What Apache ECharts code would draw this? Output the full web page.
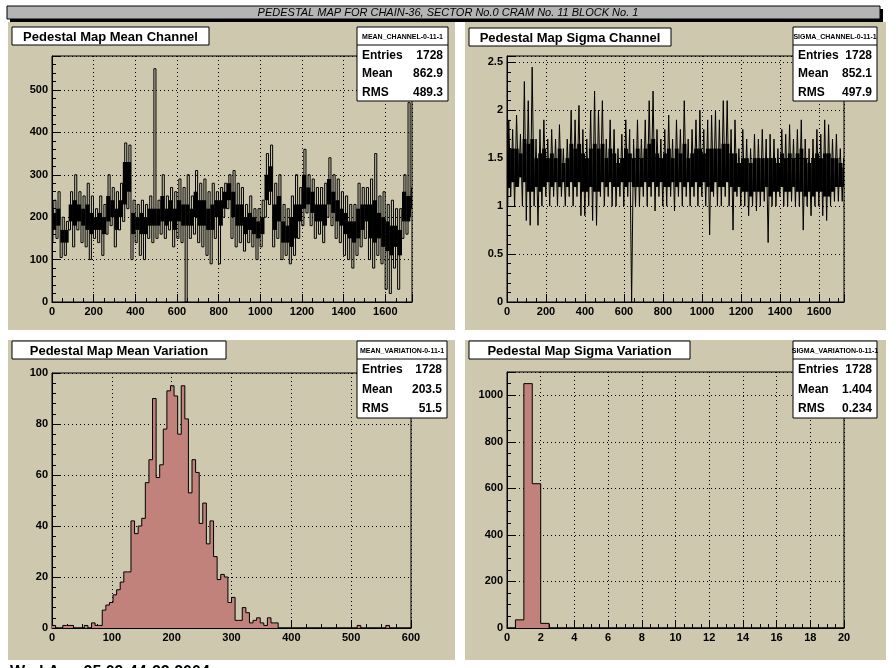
<!DOCTYPE html>
<html>
<head>
<meta charset="utf-8">
<script src="https://cdn.jsdelivr.net/npm/echarts@6/dist/echarts.min.js"></script>
<style>
html,body{margin:0;padding:0;background:#fff;}
#main{width:896px;height:668px;}
</style>
</head>
<body>
<div id="main"></div>
<script>
// 通道数据：每20个通道读取的最低/最高值
const meanChLo = [140,150,105,110,170,130,170,140,130,100,150,140,110,160,180,130,170,190,220,100,140,110,100,150,140,150,160,150,170,130,150,140,0,150,160,140,130,110,90,150,90,200,220,150,130,140,120,140,130,100,130,200,230,130,150,100,110,90,110,150,180,210,180,150,160,140,200,180,150,140,110,100,80,110,130,150,100,80,110,90,30,20,80,30,150,160,200];
const meanChHi = [240,260,200,190,260,300,260,250,280,250,220,250,230,300,270,260,280,375,370,240,230,240,230,250,550,240,300,250,270,260,290,270,300,250,310,280,290,260,280,260,270,280,300,310,280,270,230,250,220,220,240,350,370,280,300,230,220,250,300,270,360,300,290,270,270,280,340,300,290,260,250,230,230,280,270,270,290,350,250,260,230,240,220,220,300,470,270];
const sigmaChLo = [1.0,1.1,1.0,1.2,1.0,0.85,0.8,1.0,0.8,1.0,1.1,1.0,1.1,1.0,1.1,1.0,1.1,1.0,1.1,0.9,0.9,1.0,0.85,0.8,1.1,1.0,1.1,1.0,1.0,1.1,1.0,1.1,0.0,1.0,1.0,1.1,1.0,1.1,0.95,1.1,1.0,1.0,1.1,0.95,1.1,1.0,1.1,1.0,1.1,1.0,1.1,1.0,0.7,1.1,1.0,1.0,1.1,1.0,0.75,1.1,1.0,1.0,0.9,1.0,0.95,1.0,1.05,0.62,1.0,1.0,1.1,1.0,1.0,1.05,1.0,1.0,0.75,1.0,0.9,1.0,1.0,0.9,0.85,1.0,1.05,1.05,1.05];
const sigmaChHi = [1.9,1.8,1.95,1.75,2.3,2.1,2.45,1.7,1.8,1.9,1.7,1.8,1.7,1.85,1.6,1.7,2.0,1.9,2.05,1.8,1.7,2.0,2.2,2.0,2.1,1.7,1.9,1.8,1.6,1.75,1.9,1.8,1.7,1.9,1.7,1.9,2.1,2.2,1.8,1.7,1.8,1.95,1.7,1.9,1.8,2.1,1.7,1.8,1.9,2.0,1.8,1.9,1.95,2.0,1.9,2.1,2.1,1.8,1.9,1.6,1.8,1.7,1.6,1.75,1.7,1.8,1.7,1.75,1.7,1.6,1.8,1.75,1.85,1.7,1.8,1.9,1.7,1.6,1.7,1.8,1.75,1.9,1.85,1.7,1.75,1.6,1.5];
// 每组的密集核心区（读图所得）
const meanCoreLo = [170,180,140,140,190,180,190,180,170,160,170,170,160,190,200,170,200,230,260,160,170,160,160,180,180,180,190,180,190,170,190,180,180,180,200,180,180,170,170,200,180,220,240,200,180,180,160,170,160,150,160,240,260,170,190,140,140,130,150,190,220,230,210,190,190,180,230,210,190,180,160,150,140,150,170,190,150,140,150,130,120,110,130,110,190,190,220];
const meanCoreHi = [210,220,170,170,230,240,230,220,230,210,200,210,200,250,240,220,240,330,330,210,200,210,200,220,220,220,250,220,240,220,240,230,230,220,260,240,240,220,230,240,240,260,280,260,230,230,200,210,200,190,200,300,320,230,250,190,180,200,230,230,300,270,260,230,230,230,290,260,240,220,210,190,190,220,230,230,230,240,210,200,190,180,180,170,260,250,250];
const sigmaCoreLo = [1.2,1.25,1.2,1.3,1.25,1.15,1.15,1.2,1.15,1.2,1.25,1.2,1.25,1.2,1.25,1.2,1.25,1.2,1.25,1.15,1.15,1.2,1.15,1.15,1.25,1.2,1.25,1.2,1.2,1.25,1.2,1.25,1.2,1.2,1.2,1.25,1.2,1.25,1.2,1.25,1.2,1.2,1.25,1.2,1.25,1.2,1.25,1.2,1.25,1.2,1.25,1.2,1.15,1.25,1.2,1.2,1.25,1.2,1.15,1.2,1.15,1.15,1.1,1.15,1.15,1.15,1.2,1.1,1.15,1.15,1.2,1.15,1.15,1.2,1.15,1.15,1.1,1.15,1.1,1.15,1.15,1.1,1.1,1.15,1.2,1.2,1.2];
const sigmaCoreHi = [1.6,1.6,1.6,1.55,1.7,1.65,1.7,1.5,1.55,1.6,1.5,1.55,1.5,1.6,1.45,1.5,1.65,1.6,1.65,1.55,1.5,1.6,1.65,1.6,1.65,1.5,1.6,1.55,1.45,1.5,1.6,1.55,1.5,1.6,1.5,1.6,1.65,1.7,1.55,1.5,1.55,1.6,1.5,1.6,1.55,1.65,1.5,1.55,1.6,1.6,1.55,1.6,1.6,1.6,1.6,1.65,1.65,1.55,1.55,1.45,1.5,1.5,1.45,1.5,1.5,1.5,1.5,1.5,1.5,1.45,1.55,1.5,1.55,1.5,1.55,1.6,1.5,1.45,1.5,1.55,1.5,1.55,1.55,1.5,1.5,1.45,1.4];
const groupSize = 20;
const nChannels = 1728;

// 分布直方图
const meanVarCounts = [1,0,0,1,1,1,0,0,0,1,0,2,1,1,7,9,10,13,15,18,22,22,42,37,40,43,57,66,90,59,64,78,93,95,91,76,95,82,53,66,61,41,49,33,42,28,19,21,20,10,12,3,3,8,6,2,3,4,2,1,4,2,2,0,0,0,0,0,0,0,0,0,0,0,0,0,0,0,0,0,0,0,0,0,0,1,0,0,0,0,0,0,0,1,0,0,0,0,0,0];
const meanVarBin = 6;
const sigmaVarCounts = [0,35,1050,620,20,0,0,0,0,0,0,0,0,0,0,0,0,0,0,0,0,0,0,0,0,0,0,0,0,0,0,0,0,0,0,0,0,0,0,0];
const sigmaVarBin = 0.5;

const headerText = 'PEDESTAL MAP FOR CHAIN-36, SECTOR No.0 CRAM No. 11 BLOCK No. 1';
const panelTitles = ['Pedestal Map Mean Channel','Pedestal Map Sigma Channel','Pedestal Map Mean Variation','Pedestal Map Sigma Variation'];
const statNames = ['MEAN_CHANNEL-0-11-1','SIGMA_CHANNEL-0-11-1','MEAN_VARIATION-0-11-1','SIGMA_VARIATION-0-11-1'];
const statEntries = ['1728','1728','1728','1728'];
const statMeans = ['862.9','852.1','203.5','1.404'];
const statRms = ['489.3','497.9','51.5','0.234'];

function zigzag(lo, hi) {
    let out = [];
    for (let g = 0; g < lo.length; g++) {
        let s = g * groupSize;
        out.push([s + 4, lo[g]]);
        out.push([Math.min(s + 14, nChannels), hi[g]]);
    }
    return out;
}
function coreData(lo, hi) {
    return lo.map((v, g) => [g * groupSize, Math.min((g + 1) * groupSize, nChannels), v, hi[g]]);
}
function histData(counts, w) {
    let out = counts.map((c, i) => [i * w, c]);
    out.push([counts.length * w, 0]);
    return out;
}

const chart = echarts.init(document.getElementById('main'));
const F = '"Liberation Sans", Arial, sans-serif';
const beige = '#cdc8ae';

const grids = [
    {left: 52, top: 56, width: 360, height: 246},
    {left: 507, top: 56, width: 337, height: 246},
    {left: 52, top: 373, width: 359, height: 255},
    {left: 507, top: 372, width: 337, height: 256}
];
const xr = [[0, 1728, 200], [0, 1728, 200], [0, 600, 100], [0, 20, 2]];
const yr = [[0, 580, 100], [0, 2.566, 0.5], [0, 100, 20], [0, 1100, 200]];

function axisCommon(minorN) {
    return {
        axisLine: {show: true, onZero: false, lineStyle: {color: '#000', width: 1}},
        axisTick: {show: true, inside: true, length: 8, lineStyle: {color: '#000'}},
        minorTick: {show: true, splitNumber: minorN, length: 4, lineStyle: {color: '#000'}},
        splitLine: {show: true, lineStyle: {color: '#000', type: [1, 3], width: 1}},
        axisLabel: {color: '#000', fontFamily: F, fontWeight: 'bold', fontSize: 11, margin: 4,
            formatter: v => String(Math.round(v * 1000) / 1000)}
    };
}

const xAxes = grids.map((g, i) => Object.assign({
    type: 'value', gridIndex: i, min: xr[i][0], max: xr[i][1], interval: xr[i][2],
    position: 'bottom'
}, axisCommon(4)));
const yAxes = grids.map((g, i) => Object.assign({
    type: 'value', gridIndex: i, min: yr[i][0], max: yr[i][1], interval: yr[i][2]
}, axisCommon(i === 3 ? 4 : 5)));
xAxes[0].axisLabel.showMaxLabel = false;
xAxes[1].axisLabel.showMaxLabel = false;
xAxes[2].axisLabel.showMaxLabel = true;
xAxes[3].axisLabel.showMaxLabel = true;
yAxes[0].axisLabel.showMaxLabel = false;
yAxes[1].axisLabel.showMaxLabel = false;
yAxes[3].axisLabel.showMaxLabel = false;

// 背景面板与标题框
const panels = [[8, 22, 447, 308], [465, 22, 421, 308], [8, 340, 447, 320], [465, 340, 421, 320]];
const titleBoxes = [[12, 27, 197, 18], [469, 28, 202, 18], [12, 341, 214, 18], [469, 341, 221, 18]];
const statBoxes = [[357, 27, 91, 74], [793, 27, 84, 74], [357, 341, 90, 77], [793, 341, 84, 77]];

let graphics = [];
panels.forEach(p => graphics.push({type: 'rect', z: -10, shape: {x: p[0], y: p[1], width: p[2], height: p[3]}, style: {fill: beige}}));
// header
graphics.push({type: 'rect', z: 5, shape: {x: 10, y: 9, width: 873, height: 13}, style: {fill: '#000'}});
graphics.push({type: 'rect', z: 6, shape: {x: 7, y: 6, width: 873, height: 13}, style: {fill: '#b4b4b4', stroke: '#000', lineWidth: 1}});
graphics.push({type: 'text', z: 7, style: {x: 448, y: 13, text: headerText, fill: '#000', font: 'italic 11px ' + F, textAlign: 'center', textVerticalAlign: 'middle'}});
titleBoxes.forEach((b, i) => {
    graphics.push({type: 'rect', z: 20, shape: {x: b[0], y: b[1], width: b[2], height: b[3]}, style: {fill: '#fff', stroke: '#000', lineWidth: 1}});
    graphics.push({type: 'text', z: 21, style: {x: b[0] + b[2] / 2, y: b[1] + b[3] / 2 + 1, text: panelTitles[i], fill: '#000', font: 'bold 13px ' + F, textAlign: 'center', textVerticalAlign: 'middle'}});
});
statBoxes.forEach((b, i) => {
    const [x, y, w, h] = b;
    const head = 18;
    graphics.push({type: 'rect', z: 20, shape: {x: x, y: y, width: w, height: h}, style: {fill: '#fff', stroke: '#000', lineWidth: 1}});
    graphics.push({type: 'line', z: 21, shape: {x1: x, y1: y + head, x2: x + w, y2: y + head}, style: {stroke: '#000', lineWidth: 1}});
    graphics.push({type: 'text', z: 21, style: {x: x + w / 2, y: y + head / 2 + 1, text: statNames[i], fill: '#000', font: 'bold 7px ' + F, textAlign: 'center', textVerticalAlign: 'middle'}});
    const rows = [['Entries', statEntries[i]], ['Mean', statMeans[i]], ['RMS', statRms[i]]];
    const rh = (h - head) / 3;
    rows.forEach((r, k) => {
        const ty = y + head + rh * (k + 0.5) + 1;
        graphics.push({type: 'text', z: 21, style: {x: x + 5, y: ty, text: r[0], fill: '#000', font: 'bold 12px ' + F, textAlign: 'left', textVerticalAlign: 'middle'}});
        graphics.push({type: 'text', z: 21, style: {x: x + w - 5, y: ty, text: r[1], fill: '#000', font: 'bold 12px ' + F, textAlign: 'right', textVerticalAlign: 'middle'}});
    });
});
// 底部被裁切的日期
graphics.push({type: 'text', z: 30, style: {x: 10, y: 673, text: 'Wed Aug 25 09:44:22 2004', fill: '#000', font: 'bold 16px ' + F, textAlign: 'left', textVerticalAlign: 'middle'}});

const lineStyle = {color: '#000', width: 1};
function band(ax, lo, hi) {
    return {
        type: 'custom', xAxisIndex: ax, yAxisIndex: ax, z: 1,
        data: coreData(lo, hi),
        encode: {x: [0, 1], y: [2, 3]},
        renderItem: (params, api) => {
            const p0 = api.coord([api.value(0), api.value(3)]);
            const p1 = api.coord([api.value(1), api.value(2)]);
            return {type: 'rect', shape: {x: p0[0], y: p0[1], width: p1[0] - p0[0], height: p1[1] - p0[1]}, style: {fill: '#000'}};
        }
    };
}
chart.setOption({
    animation: false,
    backgroundColor: '#fff',
    grid: grids.map(g => Object.assign({show: true, borderColor: '#000', borderWidth: 1, backgroundColor: 'transparent'}, g)),
    xAxis: xAxes,
    yAxis: yAxes,
    graphic: {elements: graphics},
    series: [
        band(0, meanCoreLo, meanCoreHi),
        band(1, sigmaCoreLo, sigmaCoreHi),
        {type: 'line', xAxisIndex: 0, yAxisIndex: 0, step: 'middle', symbol: 'none', lineStyle: lineStyle, data: zigzag(meanChLo, meanChHi)},
        {type: 'line', xAxisIndex: 1, yAxisIndex: 1, step: 'middle', symbol: 'none', lineStyle: lineStyle, data: zigzag(sigmaChLo, sigmaChHi)},
        {type: 'line', xAxisIndex: 2, yAxisIndex: 2, step: 'end', symbol: 'none', lineStyle: lineStyle, areaStyle: {color: '#c0827a', opacity: 1}, data: histData(meanVarCounts, meanVarBin)},
        {type: 'line', xAxisIndex: 3, yAxisIndex: 3, step: 'end', symbol: 'none', lineStyle: lineStyle, areaStyle: {color: '#c0827a', opacity: 1}, data: histData(sigmaVarCounts, sigmaVarBin)}
    ]
});
</script>
</body>
</html>
